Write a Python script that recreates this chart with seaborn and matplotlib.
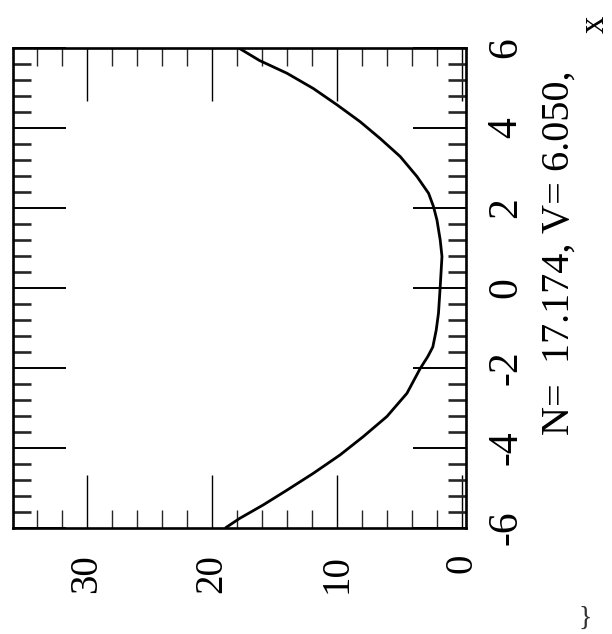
import matplotlib
matplotlib.use("Agg")
import matplotlib.pyplot as plt
from matplotlib.ticker import MultipleLocator
import seaborn as sns
import pandas as pd

# ---- data (original axes: x horizontal, value vertical) ----
x_values = [-6.0, -5.77, -5.43, -5.06, -4.64, -4.18, -3.72, -3.22, -2.64, -2.02,
            -1.72, -1.48, -1.06, -0.64, 0.03, 0.78, 1.19, 1.69, 2.03, 2.36,
            2.78, 3.28, 3.73, 4.15, 4.57, 4.98, 5.36, 5.68, 6.0]
curve_values = [18.9, 17.8, 15.9, 14.0, 11.9, 9.76, 7.9, 6.02, 4.42, 3.36,
                2.75, 2.35, 2.08, 1.9, 1.76, 1.62, 1.76, 2.02, 2.3, 2.69,
                3.62, 4.96, 6.56, 8.16, 10.0, 11.9, 14.0, 16.2, 17.9]
x_ticks = [-6, -4, -2, 0, 2, 4, 6]
value_ticks = [0, 10, 20, 30]
caption = "N=  17.174, V= 6.050,"
x_label = "x"

df = pd.DataFrame({"x": x_values, "v": curve_values})

sns.set_theme(style="white")
plt.rcParams["font.family"] = ["Liberation Serif", "DejaVu Serif"]
plt.rcParams["axes.unicode_minus"] = False

W, H = 612, 634
fig = plt.figure(figsize=(W / 100, H / 100), dpi=100)
left, right, top, bottom = 13, 466, 47.7, 527.7
ax = fig.add_axes([left / W, 1 - bottom / H, (right - left) / W, (bottom - top) / H])

# chart is rotated 90 degrees: value runs right->left, x runs bottom->top
sns.lineplot(data=df, x="v", y="x", orient="y", sort=True, estimator=None,
             color="black", linewidth=2.0, ax=ax)

ax.set_xlim(35.9, -0.3)
ax.set_ylim(-6, 6)
ax.set_xlabel("")
ax.set_ylabel("")

ax.set_xticks(value_ticks)
ax.set_xticklabels([str(t) for t in value_ticks])
ax.set_yticks(x_ticks)
ax.set_yticklabels([str(t) for t in x_ticks])
ax.xaxis.set_minor_locator(MultipleLocator(2))
ax.yaxis.set_minor_locator(MultipleLocator(0.4))

for s in ax.spines.values():
    s.set_linewidth(1.9)
    s.set_color("black")

ax.tick_params(axis="x", which="major", direction="in", length=38, width=1.0,
               top=True, bottom=True, labelsize=28, labelrotation=90, pad=19,
               colors="black")
ax.tick_params(axis="x", which="minor", direction="in", length=13, width=1.0,
               top=True, bottom=True)
ax.tick_params(axis="y", which="major", direction="in", length=38, width=1.4,
               left=True, right=True, labelleft=False, labelright=True,
               labelsize=30, labelrotation=90, pad=15, colors="black")
ax.tick_params(axis="y", which="minor", direction="in", length=13, width=1.9,
               left=True, right=True)
for lbl in ax.get_yticklabels():
    lbl.set_va("center")
    lbl.set_ha("left")
for lbl in ax.get_xticklabels():
    lbl.set_ha("center")
    lbl.set_va("top")

fig.text(559 / W, 1 - 435 / H, caption, rotation=90, ha="center", va="bottom",
         fontsize=29, color="black")
fig.text(595 / W, 1 - 24 / H, x_label, rotation=90, ha="center", va="center",
         fontsize=25, color="black")
fig.text(585 / W, 1 - 618 / H, "}", ha="center", va="center",
         fontsize=20, color="#333333")

fig.savefig("out.png", dpi=100, facecolor="white")
